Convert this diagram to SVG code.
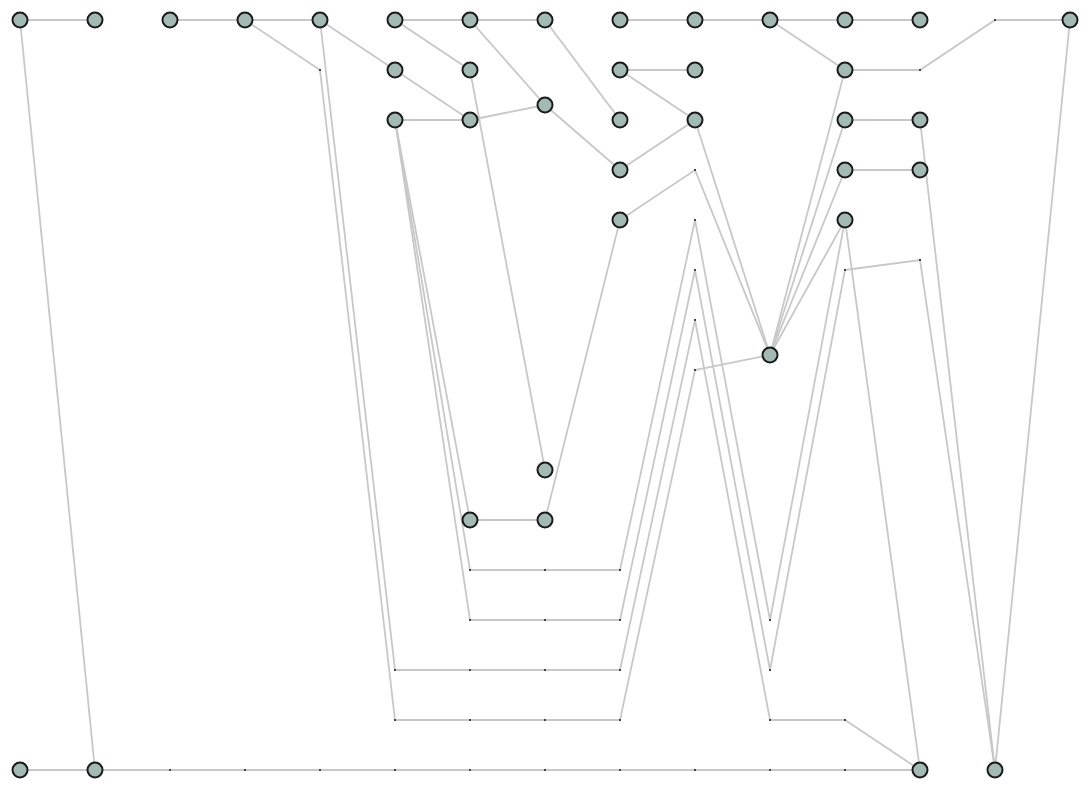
<svg xmlns="http://www.w3.org/2000/svg" width="1090" height="790" viewBox="0 0 1090 790">
<style>
.e{fill:none;stroke:#c8c8c8;stroke-width:1.8;stroke-linejoin:miter}
.n{fill:#a3b9b3;stroke:#1a1a1a;stroke-width:2}
.d{fill:#444}
</style>
<defs>
<circle id="nd" r="7.5" class="n"/>
<rect id="dm" x="-1" y="-1" width="2" height="2" class="d"/>
</defs>
<rect width="1090" height="790" fill="#fff"/>
<g id="connectors">
<polyline class="e" points="20,20 95,20"/>
<polyline class="e" points="20,20 95,770"/>
<polyline class="e" points="20,770 95,770"/>
<polyline class="e" points="95,770 170,770 245,770 320,770 395,770 470,770 545,770 620,770 695,770 770,770 845,770 920,770"/>
<polyline class="e" points="170,20 245,20"/>
<polyline class="e" points="245,20 320,20"/>
<polyline class="e" points="245,20 320,70 395,720 470,720 545,720 620,720 695,370 770,355"/>
<polyline class="e" points="320,20 395,670 470,670 545,670 620,670 695,320 770,720 845,720 920,770"/>
<polyline class="e" points="320,20 395,70"/>
<polyline class="e" points="395,20 470,20 545,20"/>
<polyline class="e" points="395,20 470,70"/>
<polyline class="e" points="470,20 545,105"/>
<polyline class="e" points="545,20 620,120"/>
<polyline class="e" points="395,70 470,120"/>
<polyline class="e" points="395,120 470,120"/>
<polyline class="e" points="470,120 545,105"/>
<polyline class="e" points="545,105 620,170"/>
<polyline class="e" points="620,170 695,120"/>
<polyline class="e" points="620,70 695,70"/>
<polyline class="e" points="620,70 695,120"/>
<polyline class="e" points="620,20 695,20 770,20 845,20 920,20"/>
<polyline class="e" points="770,20 845,70"/>
<polyline class="e" points="845,70 920,70 995,20 1070,20"/>
<polyline class="e" points="1070,20 995,770"/>
<polyline class="e" points="845,120 920,120"/>
<polyline class="e" points="845,170 920,170"/>
<polyline class="e" points="920,120 995,770"/>
<polyline class="e" points="845,70 770,355"/>
<polyline class="e" points="845,120 770,355"/>
<polyline class="e" points="845,170 770,355"/>
<polyline class="e" points="845,220 770,355"/>
<polyline class="e" points="695,120 770,355"/>
<polyline class="e" points="620,220 695,170 770,355"/>
<polyline class="e" points="845,220 920,770"/>
<polyline class="e" points="845,220 770,620 695,220 620,570 545,570 470,570 395,120"/>
<polyline class="e" points="845,270 770,670 695,270 620,620 545,620 470,620 395,120"/>
<polyline class="e" points="845,270 920,260 995,770"/>
<polyline class="e" points="395,120 470,520 545,520 620,220"/>
<polyline class="e" points="470,70 545,470"/>
</g>
<g id="dummies">
<use href="#dm" x="320" y="70"/><use href="#dm" x="995" y="20"/><use href="#dm" x="920" y="70"/>
<use href="#dm" x="695" y="170"/><use href="#dm" x="695" y="220"/><use href="#dm" x="695" y="270"/>
<use href="#dm" x="695" y="320"/><use href="#dm" x="695" y="370"/><use href="#dm" x="845" y="270"/>
<use href="#dm" x="920" y="260"/>
<use href="#dm" x="470" y="570"/><use href="#dm" x="545" y="570"/><use href="#dm" x="620" y="570"/>
<use href="#dm" x="470" y="620"/><use href="#dm" x="545" y="620"/><use href="#dm" x="620" y="620"/>
<use href="#dm" x="395" y="670"/><use href="#dm" x="470" y="670"/><use href="#dm" x="545" y="670"/><use href="#dm" x="620" y="670"/>
<use href="#dm" x="395" y="720"/><use href="#dm" x="470" y="720"/><use href="#dm" x="545" y="720"/><use href="#dm" x="620" y="720"/>
<use href="#dm" x="770" y="620"/><use href="#dm" x="770" y="670"/><use href="#dm" x="770" y="720"/><use href="#dm" x="845" y="720"/>
<use href="#dm" x="170" y="770"/><use href="#dm" x="245" y="770"/><use href="#dm" x="320" y="770"/><use href="#dm" x="395" y="770"/>
<use href="#dm" x="470" y="770"/><use href="#dm" x="545" y="770"/><use href="#dm" x="620" y="770"/><use href="#dm" x="695" y="770"/>
<use href="#dm" x="770" y="770"/><use href="#dm" x="845" y="770"/>
</g>
<g id="n1"><use href="#nd" x="20" y="20"/></g>
<g id="n2"><use href="#nd" x="95" y="20"/></g>
<g id="n3"><use href="#nd" x="170" y="20"/></g>
<g id="n4"><use href="#nd" x="245" y="20"/></g>
<g id="n5"><use href="#nd" x="320" y="20"/></g>
<g id="n6"><use href="#nd" x="395" y="20"/></g>
<g id="n7"><use href="#nd" x="470" y="20"/></g>
<g id="n8"><use href="#nd" x="545" y="20"/></g>
<g id="n9"><use href="#nd" x="620" y="20"/></g>
<g id="n10"><use href="#nd" x="695" y="20"/></g>
<g id="n11"><use href="#nd" x="770" y="20"/></g>
<g id="n12"><use href="#nd" x="845" y="20"/></g>
<g id="n13"><use href="#nd" x="920" y="20"/></g>
<g id="n14"><use href="#nd" x="1070" y="20"/></g>
<g id="n15"><use href="#nd" x="395" y="70"/></g>
<g id="n16"><use href="#nd" x="470" y="70"/></g>
<g id="n17"><use href="#nd" x="620" y="70"/></g>
<g id="n18"><use href="#nd" x="695" y="70"/></g>
<g id="n19"><use href="#nd" x="845" y="70"/></g>
<g id="n20"><use href="#nd" x="545" y="105"/></g>
<g id="n21"><use href="#nd" x="395" y="120"/></g>
<g id="n22"><use href="#nd" x="470" y="120"/></g>
<g id="n23"><use href="#nd" x="620" y="120"/></g>
<g id="n24"><use href="#nd" x="695" y="120"/></g>
<g id="n25"><use href="#nd" x="845" y="120"/></g>
<g id="n26"><use href="#nd" x="920" y="120"/></g>
<g id="n27"><use href="#nd" x="620" y="170"/></g>
<g id="n28"><use href="#nd" x="845" y="170"/></g>
<g id="n29"><use href="#nd" x="920" y="170"/></g>
<g id="n30"><use href="#nd" x="620" y="220"/></g>
<g id="n31"><use href="#nd" x="845" y="220"/></g>
<g id="n32"><use href="#nd" x="770" y="355"/></g>
<g id="n33"><use href="#nd" x="545" y="470"/></g>
<g id="n34"><use href="#nd" x="470" y="520"/></g>
<g id="n35"><use href="#nd" x="545" y="520"/></g>
<g id="n36"><use href="#nd" x="20" y="770"/></g>
<g id="n37"><use href="#nd" x="95" y="770"/></g>
<g id="n38"><use href="#nd" x="920" y="770"/></g>
<g id="n39"><use href="#nd" x="995" y="770"/></g>
</svg>
